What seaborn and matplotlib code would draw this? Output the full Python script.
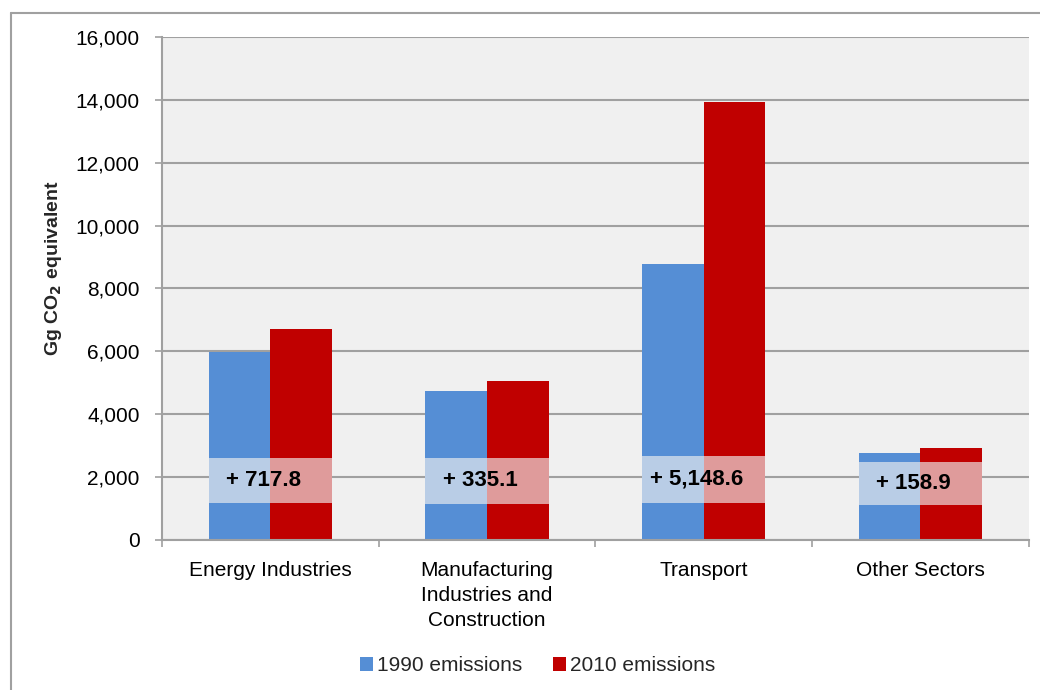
import matplotlib
matplotlib.use("Agg")
import matplotlib.pyplot as plt
from matplotlib.patches import Rectangle, Patch
from matplotlib.lines import Line2D
from matplotlib.ticker import FuncFormatter, FixedLocator
import seaborn as sns
import pandas as pd

# Emissions by sector, Gg CO2 equivalent
sectors = ["Energy Industries",
           "Manufacturing\nIndustries and\nConstruction",
           "Transport",
           "Other Sectors"]
emissions_1990 = [5980.0, 4725.0, 8770.0, 2770.0]
emissions_2010 = [6697.8, 5060.1, 13918.6, 2928.9]
series_names = ["1990 emissions", "2010 emissions"]

# Vertical extent of the change-annotation band per sector
band_lo = [1190, 1140, 1190, 1125]
band_hi = [2620, 2620, 2685, 2485]

blue = "#558ED5"
red = "#C00000"
panel = "#F0F0F0"
grid_grey = "#A0A0A0"

df = pd.DataFrame({
    "sector": sectors * 2,
    "series": [series_names[0]] * 4 + [series_names[1]] * 4,
    "value": emissions_1990 + emissions_2010,
})

sns.set_theme(style="white")
plt.rcParams["font.family"] = ["Liberation Sans", "DejaVu Sans"]

fig = plt.figure(figsize=(10.4, 6.9), dpi=100)
ax = fig.add_axes([0.1558, 0.2174, 0.989 - 0.1558, 0.9464 - 0.2174])
ax.set_facecolor(panel)

width = 0.57
sns.barplot(data=df, x="sector", y="value", hue="series", order=sectors,
            hue_order=series_names, palette=[blue, red], width=width,
            saturation=1, ax=ax, legend=False, linewidth=0, zorder=3)

# Semi-transparent band with the 1990->2010 change
for i, (lo, hi) in enumerate(zip(band_lo, band_hi)):
    ax.add_patch(Rectangle((i - width / 2, lo), width, hi - lo,
                           facecolor=panel, alpha=0.65, edgecolor="none",
                           zorder=4))
    diff = emissions_2010[i] - emissions_1990[i]
    ax.text(i - 0.03, (lo + hi) / 2, f"+ {diff:,.1f}", ha="center",
            va="center", fontsize=16, fontweight="bold", color="black",
            zorder=5)

ax.set_xlim(-0.5, 3.5)
ax.set_ylim(0, 16000)
ax.set_yticks(range(0, 16001, 2000))
ax.yaxis.set_major_formatter(FuncFormatter(lambda v, p: f"{v:,.0f}"))
ax.grid(axis="y", color=grid_grey, linewidth=1.5, zorder=0)
ax.set_axisbelow(True)

for side in ["top", "right"]:
    ax.spines[side].set_visible(False)
for side in ["left", "bottom"]:
    ax.spines[side].set_color(grid_grey)
    ax.spines[side].set_linewidth(1.5)
    ax.spines[side].set_zorder(6)

ax.tick_params(axis="y", which="major", direction="out", length=5,
               width=1.2, color=grid_grey, pad=11, labelsize=15,
               labelcolor="black", left=True)
ax.tick_params(axis="x", which="major", length=0, pad=15, labelsize=15,
               labelcolor="black")
ax.xaxis.set_minor_locator(FixedLocator([-0.5, 0.5, 1.5, 2.5, 3.5]))
ax.tick_params(axis="x", which="minor", direction="out", length=5,
               width=1.2, color=grid_grey, bottom=True)
for lbl in ax.get_xticklabels():
    lbl.set_linespacing(1.42)
    lbl.set_verticalalignment("top")

ax.set_xlabel("")
ax.set_ylabel(r"Gg CO$_\mathbf{2}$ equivalent", fontsize=14,
              fontweight="bold")
ax.yaxis.set_label_coords(-0.113, 0.54)

handles = [Patch(facecolor=blue, edgecolor="none"),
           Patch(facecolor=red, edgecolor="none")]
fig.legend(handles, series_names, loc="center", bbox_to_anchor=(0.517, 0.035),
           ncol=2, frameon=False, fontsize=15, handlelength=0.6,
           handleheight=0.6, handletextpad=0.2, columnspacing=1.5)

# Outer chart frame
fig.add_artist(Line2D([0.0106, 1.0], [0.981, 0.981], transform=fig.transFigure,
                      color=grid_grey, linewidth=1.5))
fig.add_artist(Line2D([0.0106, 0.0106], [0.0, 0.981], transform=fig.transFigure,
                      color=grid_grey, linewidth=1.5))

fig.savefig("out.png", dpi=100)
